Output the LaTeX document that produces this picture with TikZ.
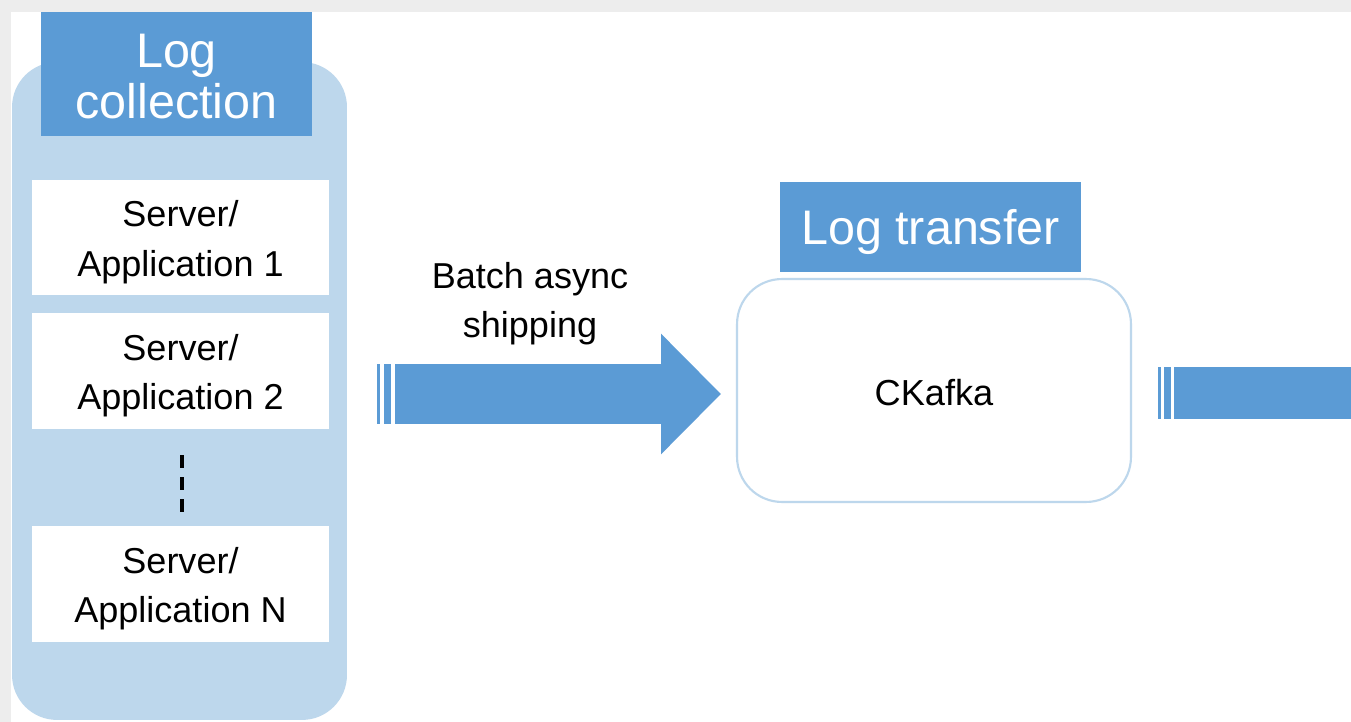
\documentclass[tikz,border=0pt]{standalone}
\usepackage{fontspec}
\setmainfont{Liberation Sans}
\usepackage{tikz}
\usetikzlibrary{arrows.meta, positioning}
\definecolor{logblue}{HTML}{5B9BD5}
\definecolor{paleblue}{HTML}{BDD7EC}
\newcommand\twolines[3][0.08cm]{%
  \raisebox{-#1}[\height][\depth]{\begin{tabular}{@{}c@{}}#2\\#3\end{tabular}}}

\begin{document}
\begin{tikzpicture}[x=0.02cm,y=-0.02cm,
    droptext/.style={execute at begin node={\rule{0pt}{#1}}}]
  \tikzstyle{titlebox}=[fill=logblue,text=white,inner sep=0pt,
    font=\fontsize{27.6}{28.4}\selectfont]
  \tikzstyle{serverbox}=[fill=white,inner sep=0pt,
    minimum width=5.94cm,minimum height=2.32cm,
    font=\fontsize{20.5}{28.4}\selectfont]
  \tikzstyle{fatarrow}=[logblue,line cap=butt]

  % page with its thin shadow
  \useasboundingbox (0,0) rectangle (1351,722);
  \clip (0,0) rectangle (1351,722);
  \fill[black!7] (0,0) rectangle (1351,722);
  \fill[white] (11,12) rectangle (1351,722);

  % log collection
  \node[fill=paleblue,rounded corners=0.9cm,minimum width=6.7cm,
    minimum height=13.16cm] (panel) at (179.5,391) {};
  \node[titlebox,minimum width=5.42cm,minimum height=2.48cm] (collect)
    at (176.5,74) {\twolines[0.18cm]{Log}{collection}};
  \node[serverbox] (s1) at (180.5,237.5) {\twolines{Server/}{Application 1}};
  \node[serverbox] (s2) at (180.5,371)   {\twolines{Server/}{Application 2}};
  \node[serverbox] (sN) at (180.5,584)   {\twolines{Server/}{Application N}};
  \draw[line width=2pt,dash pattern=on 0.26cm off 0.18cm,shorten <=0.52cm,
    shorten >=0.26cm] ([xshift=0.03cm]s2.south) -- ([xshift=0.03cm]sN.north);

  % log transfer
  \node[titlebox,minimum width=6.02cm,minimum height=1.8cm,droptext=0.95em]
    (transfer) at (930.5,227) {Log transfer};
  \node[draw=paleblue,line width=1.2pt,fill=white,rounded corners=0.9cm,
    minimum width=7.88cm,minimum height=4.46cm,
    font=\fontsize{20.6}{24}\selectfont,droptext=0.84em]
    (kafka) at (934,390.5) {CKafka};

  % batch shipping arrow
  \coordinate (a1) at (395,394);
  \fill[logblue] (377,364) rectangle (380,424);
  \fill[logblue] (384,364) rectangle (391,424);
  \draw[fatarrow,line width=1.2cm,
    -{Triangle[length=1.2cm,width=2.34cm]},shorten >=0.3cm]
    (a1) -- (a1 -| kafka.west);
  \node[inner sep=0pt,font=\fontsize{20.5}{28.4}\selectfont]
    (ship) at (530,299) {\twolines{Batch async}{shipping}};

  % arrow leaving the picture
  \coordinate (a2) at (1174,393);
  \coordinate (a2end) at (1400,393);
  \fill[logblue] (1158,367) rectangle (1161,419);
  \fill[logblue] (1164,367) rectangle (1171,419);
  \draw[fatarrow,line width=1.04cm] (a2) -- (a2end);
\end{tikzpicture}
\end{document}
